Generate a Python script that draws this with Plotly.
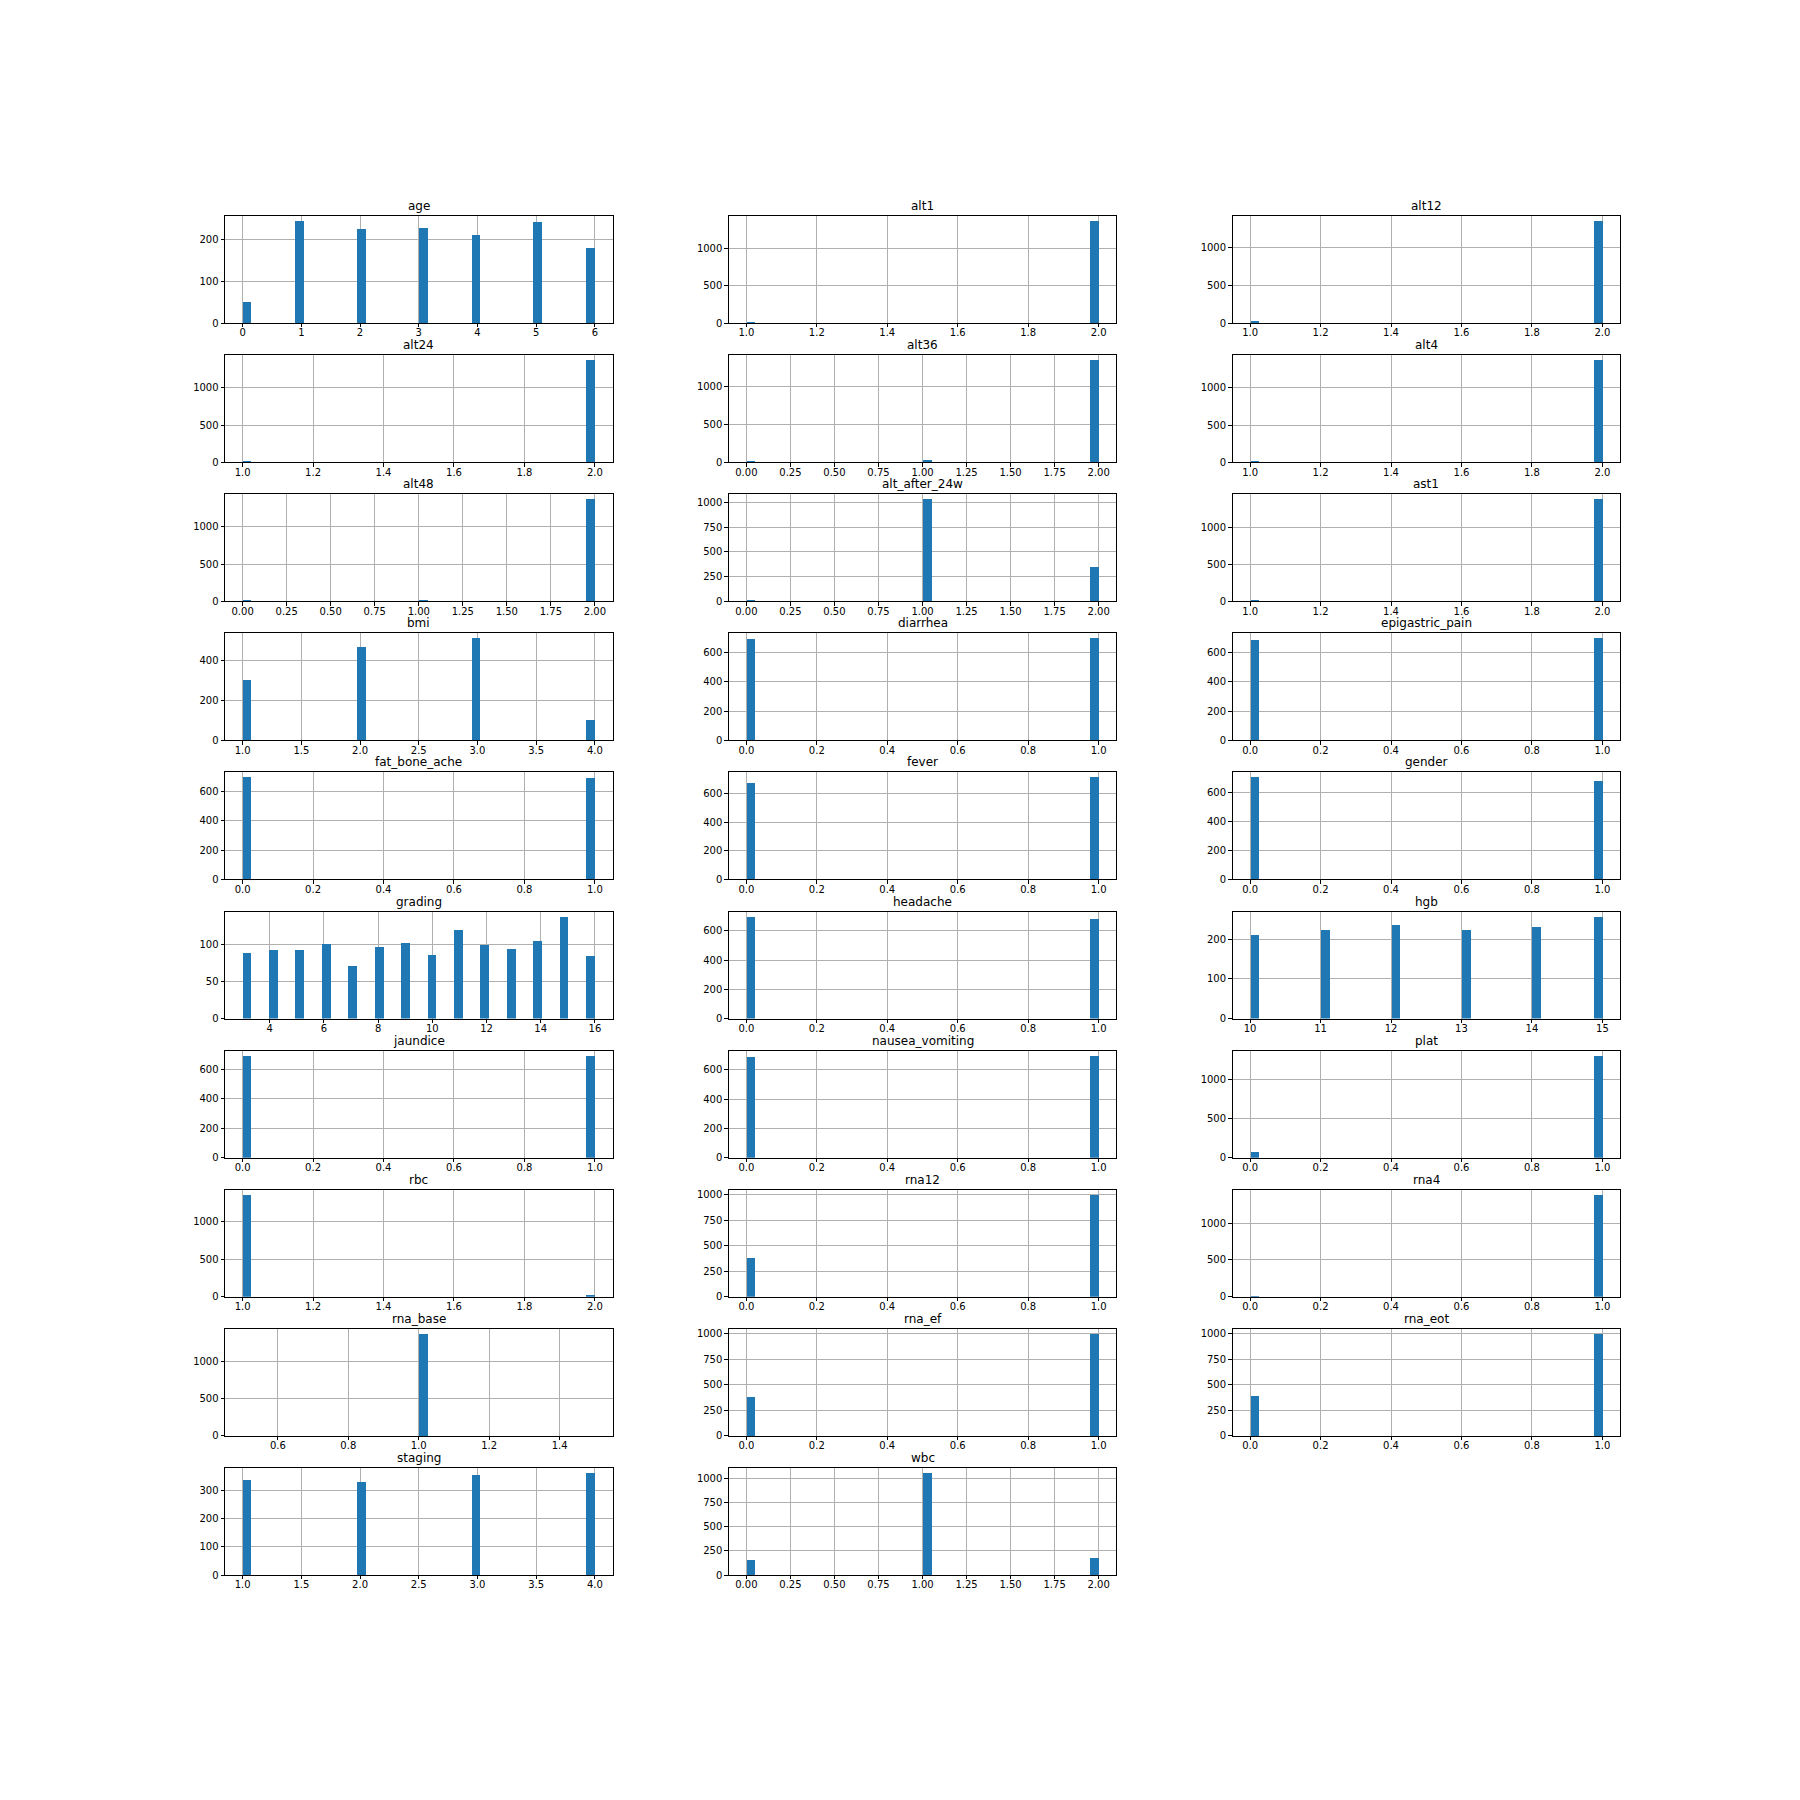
import numpy as np
import plotly.graph_objects as go
from plotly.subplots import make_subplots

# ---------------- data ----------------
names = ["age", "alt1", "alt12", "alt24", "alt36", "alt4", "alt48", "alt_after_24w",
         "ast1", "bmi", "diarrhea", "epigastric_pain", "fat_bone_ache", "fever", "gender",
         "grading", "headache", "hgb", "jaundice", "nausea_vomiting", "plat", "rbc",
         "rna12", "rna4", "rna_base", "rna_ef", "rna_eot", "staging", "wbc"]

values = [
    [0, 1, 2, 3, 4, 5, 6],          # age
    [1, 2],                          # alt1
    [1, 2],                          # alt12
    [1, 2],                          # alt24
    [0, 1, 2],                       # alt36
    [1, 2],                          # alt4
    [0, 1, 2],                       # alt48
    [0, 1, 2],                       # alt_after_24w
    [1, 2],                          # ast1
    [1, 2, 3, 4],                    # bmi
    [0, 1],                          # diarrhea
    [0, 1],                          # epigastric_pain
    [0, 1],                          # fat_bone_ache
    [0, 1],                          # fever
    [0, 1],                          # gender
    [3, 4, 5, 6, 7, 8, 9, 10, 11, 12, 13, 14, 15, 16],  # grading
    [0, 1],                          # headache
    [10, 11, 12, 13, 14, 15],        # hgb
    [0, 1],                          # jaundice
    [0, 1],                          # nausea_vomiting
    [0, 1],                          # plat
    [1, 2],                          # rbc
    [0, 1],                          # rna12
    [0, 1],                          # rna4
    [1],                             # rna_base
    [0, 1],                          # rna_ef
    [0, 1],                          # rna_eot
    [1, 2, 3, 4],                    # staging
    [0, 1, 2],                       # wbc
]

counts = [
    [50, 245, 226, 229, 212, 243, 180],
    [20, 1362],
    [30, 1355],
    [12, 1373],
    [1, 28, 1356],
    [12, 1373],
    [1, 12, 1372],
    [10, 1031, 344],
    [12, 1373],
    [302, 469, 513, 101],
    [689, 696],
    [687, 698],
    [694, 691],
    [672, 713],
    [707, 678],
    [90, 94, 94, 102, 72, 98, 103, 87, 121, 100, 95, 106, 138, 86],
    [698, 687],
    [211, 224, 237, 224, 232, 257],
    [692, 693],
    [689, 696],
    [75, 1310],
    [1362, 23],
    [384, 1001],
    [2, 1383],
    [1375],
    [385, 1000],
    [387, 998],
    [337, 330, 355, 363],
    [155, 1055, 175],
]

T_int06 = ["0", "1", "2", "3", "4", "5", "6"]
T_12 = ["1.0", "1.2", "1.4", "1.6", "1.8", "2.0"]
T_025 = ["0.00", "0.25", "0.50", "0.75", "1.00", "1.25", "1.50", "1.75", "2.00"]
T_14 = ["1.0", "1.5", "2.0", "2.5", "3.0", "3.5", "4.0"]
T_01 = ["0.0", "0.2", "0.4", "0.6", "0.8", "1.0"]
T_grad = ["4", "6", "8", "10", "12", "14", "16"]
T_hgb = ["10", "11", "12", "13", "14", "15"]
T_base = ["0.6", "0.8", "1.0", "1.2", "1.4"]

xtick_labels = [T_int06, T_12, T_12, T_12, T_025, T_12, T_025, T_025, T_12, T_14,
                T_01, T_01, T_01, T_01, T_01, T_grad, T_01, T_hgb, T_01, T_01,
                T_01, T_12, T_01, T_01, T_base, T_01, T_01, T_14, T_025]

Y_100 = ["0", "100", "200"]
Y_500 = ["0", "500", "1000"]
Y_250 = ["0", "250", "500", "750", "1000"]
Y_200 = ["0", "200", "400"]
Y_600 = ["0", "200", "400", "600"]
Y_50 = ["0", "50", "100"]
Y_300 = ["0", "100", "200", "300"]

ytick_labels = [Y_100, Y_500, Y_500, Y_500, Y_500, Y_500, Y_500, Y_250, Y_500, Y_200,
                Y_600, Y_600, Y_600, Y_600, Y_600, Y_50, Y_600, Y_100, Y_600, Y_600,
                Y_500, Y_500, Y_250, Y_500, Y_500, Y_250, Y_250, Y_300, Y_250]

N_BINS = 40
BAR_COLOR = "#1f77b4"
FONT = "DejaVu Sans"

# ---------------- figure ----------------
W = H = 1800
ML, MR, MT, MB = 225, 180, 216, 225
nrows, ncols = 10, 3
specs = [[{}, {}, {}] for _ in range(nrows - 1)] + [[{}, {}, None]]
fig = make_subplots(rows=nrows, cols=ncols, specs=specs,
                    horizontal_spacing=116.25 / (W - ML - MR),
                    vertical_spacing=32.1 / (H - MT - MB))

annotations = []
for i, name in enumerate(names):
    r, c = i // ncols + 1, i % ncols + 1
    raw = np.repeat(np.array(values[i], dtype=float), counts[i])
    hist, edges = np.histogram(raw, bins=N_BINS)
    centers = (edges[:-1] + edges[1:]) / 2
    widths = np.diff(edges)
    fig.add_trace(go.Bar(x=centers, y=hist, width=widths,
                         marker=dict(color=BAR_COLOR, line=dict(width=0)),
                         showlegend=False, name=name), row=r, col=c)
    lo, hi = edges[0], edges[-1]
    pad = 0.05 * (hi - lo)
    xt = xtick_labels[i]
    yt = ytick_labels[i]
    common = dict(showline=True, mirror=True, linecolor="black", linewidth=0.8,
                  ticks="outside", ticklen=3.5, tickwidth=0.8, tickcolor="black",
                  showgrid=True, gridcolor="#b0b0b0", gridwidth=0.8, zeroline=False,
                  layer="above traces",
                  tickfont=dict(size=10, color="black", family=FONT))
    fig.update_xaxes(range=[lo - pad, hi + pad], tickmode="array",
                     tickvals=[float(t) for t in xt], ticktext=xt,
                     ticklabelstandoff=-3, row=r, col=c, **common)
    fig.update_yaxes(range=[0, 1.05 * hist.max()], tickmode="array",
                     tickvals=[float(t) for t in yt], ticktext=yt, row=r, col=c, **common)
    sp = fig.get_subplot(r, c)
    xd = sp.xaxis.domain
    yd = sp.yaxis.domain
    annotations.append(dict(text=name, xref="paper", yref="paper",
                            x=(xd[0] + xd[1]) / 2, y=yd[1], xanchor="center",
                            yanchor="bottom", yshift=1, showarrow=False,
                            font=dict(size=12, color="black", family=FONT)))

fig.update_layout(width=W, height=H, margin=dict(l=ML, r=MR, t=MT, b=MB),
                  paper_bgcolor="white", plot_bgcolor="white",
                  font=dict(family=FONT, color="black"),
                  annotations=annotations, bargap=0, showlegend=False)

fig.write_html("out.html")
